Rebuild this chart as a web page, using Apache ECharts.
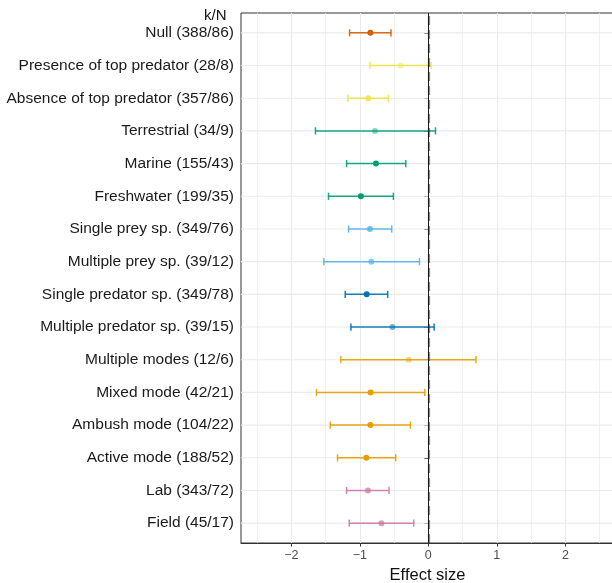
<!DOCTYPE html>
<html>
<head>
<meta charset="utf-8">
<script src="https://cdn.jsdelivr.net/npm/echarts@6/dist/echarts.min.js"></script>
<style>html,body{margin:0;padding:0;background:#fff}#c{width:612px;height:583px}</style>
</head>
<body>
<div id="c"></div>
<script>
const categories = [
  'Null (388/86)', 'Presence of top predator (28/8)', 'Absence of top predator (357/86)',
  'Terrestrial (34/9)', 'Marine (155/43)', 'Freshwater (199/35)',
  'Single prey sp. (349/76)', 'Multiple prey sp. (39/12)',
  'Single predator sp. (349/78)', 'Multiple predator sp. (39/15)',
  'Multiple modes (12/6)', 'Mixed mode (42/21)', 'Ambush mode (104/22)', 'Active mode (188/52)',
  'Lab (343/72)', 'Field (45/17)'
];
const estimate = [-0.846, -0.403, -0.876, -0.779, -0.764, -0.984, -0.852, -0.832, -0.900, -0.524, -0.285, -0.842, -0.846, -0.905, -0.881, -0.685];
const lower    = [-1.149, -0.852, -1.174, -1.647, -1.193, -1.457, -1.164, -1.525, -1.213, -1.130, -1.277, -1.632, -1.432, -1.325, -1.193, -1.154];
const upper    = [-0.545,  0.041, -0.583,  0.105, -0.329, -0.510, -0.534, -0.129, -0.593,  0.085,  0.695, -0.051, -0.261, -0.476, -0.574, -0.212];
const xTicks = [-2, -1, 0, 1, 2];
const xMinorTicks = [-2.5, -1.5, -0.5, 0.5, 1.5, 2.5];

// styles (kept separate from data)
const rowColor = ['#D55E00', '#F0E442', '#F0E442', '#009E73', '#009E73', '#009E73', '#56B4E9', '#56B4E9',
  '#0072B2', '#0072B2', '#E69F00', '#E69F00', '#E69F00', '#E69F00', '#CC79A7', '#CC79A7'];
const pointAlpha = [1, 0.45, 0.85, 0.45, 1, 1, 0.85, 0.7, 1, 0.55, 0.45, 1, 1, 1, 0.75, 0.75];

const XMIN = -2.734, XMAX = 2.71;
const fmt = v => (v < 0 ? '\u2212' + Math.abs(v) : String(v));
const FONT = 'Liberation Sans, Arial, sans-serif';

const chart = echarts.init(document.getElementById('c'), null, {renderer: 'canvas'});
const barData = categories.map((c, i) => [i, lower[i], upper[i]]);
const pointData = categories.map((c, i) => ({
  value: [estimate[i], i],
  itemStyle: {color: rowColor[i], opacity: pointAlpha[i]}
}));

chart.setOption({
  animation: false,
  textStyle: {fontFamily: FONT},
  title: {
    text: 'k/N', left: 199, top: 3,
    textStyle: {fontSize: 15, fontWeight: 'normal', color: '#111', fontFamily: FONT}
  },
  grid: [
    {left: 241, right: -2, top: 13, bottom: 40, show: true, borderColor: '#333', borderWidth: 1,
      backgroundColor: 'transparent', outerBoundsMode: 'none', containLabel: false},
    {left: 241, right: -2, top: 16.5, bottom: 43.5, outerBoundsMode: 'none', containLabel: false}
  ],
  xAxis: [
    {
      gridIndex: 0, type: 'value', min: XMIN, max: XMAX,
      axisLine: {show: true, lineStyle: {color: '#333', width: 1}},
      axisTick: {show: true, length: 3.5, lineStyle: {color: '#333'}, customValues: xTicks},
      axisLabel: {color: '#4d4d4d', fontSize: 12.5, margin: 6, formatter: fmt, customValues: xTicks},
      splitLine: {show: true, lineStyle: {color: '#ebebeb', width: 1.1}},
      name: 'Effect size', nameLocation: 'middle', nameGap: 23,
      nameTextStyle: {fontSize: 16.5, color: '#111'}
    },
    {
      gridIndex: 0, type: 'value', min: XMIN, max: XMAX,
      axisLine: {show: false},
      axisTick: {show: false, customValues: xMinorTicks},
      axisLabel: {show: false, customValues: xMinorTicks},
      splitLine: {show: true, lineStyle: {color: '#ededed', width: 0.8}}
    },
    {
      gridIndex: 1, type: 'value', min: XMIN, max: XMAX, show: false,
      splitLine: {show: false}
    }
  ],
  yAxis: [
    {gridIndex: 0, type: 'value', min: 0, max: 1, show: false, splitLine: {show: false}},
    {
      gridIndex: 1, type: 'category', data: categories, inverse: true,
      axisLine: {show: false},
      axisTick: {show: true, alignWithLabel: true, length: 4, lineStyle: {color: '#333', width: 1}},
      axisLabel: {color: '#1a1a1a', fontSize: 15.5, margin: 7, interval: 0},
      splitLine: {show: false}
    }
  ],
  series: [
    {
      // horizontal gridlines at each category
      type: 'custom', xAxisIndex: 2, yAxisIndex: 1, z: 1, silent: true,
      data: categories.map((c, i) => [i]),
      encode: {y: 0},
      renderItem: function (params, api) {
        const y = api.coord([0, api.value(0)])[1];
        const cs = params.coordSys;
        return {type: 'line', shape: {x1: cs.x, y1: y, x2: cs.x + cs.width, y2: y},
          style: {stroke: '#ebebeb', lineWidth: 1.1}};
      }
    },
    {
      // zero reference line
      type: 'line', xAxisIndex: 0, yAxisIndex: 0, data: [], z: 3, silent: true,
      markLine: {
        silent: true, symbol: 'none', label: {show: false},
        data: [
          {xAxis: 0, lineStyle: {color: 'rgba(40,40,40,0.55)', width: 2.2, type: [9, 5]}},
          {xAxis: 0, lineStyle: {color: '#1a1a1a', width: 1, type: 'solid'}}
        ]
      }
    },
    {
      type: 'custom', xAxisIndex: 2, yAxisIndex: 1, z: 4,
      data: barData,
      encode: {x: [1, 2], y: 0},
      renderItem: function (params, api) {
        const i = api.value(0);
        const lo = api.coord([api.value(1), i]);
        const hi = api.coord([api.value(2), i]);
        const col = rowColor[params.dataIndex];
        const h = 3.6;
        const st = {stroke: col, lineWidth: 1.5, opacity: 0.9};
        return {type: 'group', children: [
          {type: 'line', shape: {x1: lo[0], y1: lo[1], x2: hi[0], y2: hi[1]}, style: st},
          {type: 'line', shape: {x1: lo[0], y1: lo[1] - h, x2: lo[0], y2: lo[1] + h}, style: st},
          {type: 'line', shape: {x1: hi[0], y1: hi[1] - h, x2: hi[0], y2: hi[1] + h}, style: st}
        ]};
      }
    },
    {
      type: 'scatter', xAxisIndex: 2, yAxisIndex: 1, z: 5,
      symbol: 'circle', symbolSize: 6,
      data: pointData
    }
  ]
});
</script>
</body>
</html>
